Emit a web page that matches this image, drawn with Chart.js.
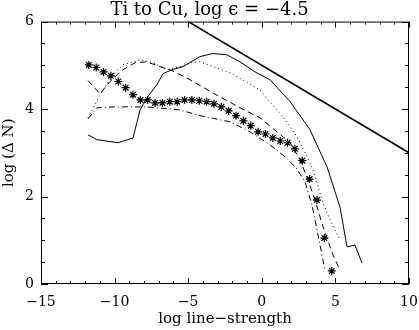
<!DOCTYPE html>
<html>
<head>
<meta charset="utf-8">
<script src="https://cdn.jsdelivr.net/npm/chart.js@4.4.1/dist/chart.umd.min.js"></script>
<style>
  html, body { margin: 0; padding: 0; background: #fff; }
</style>
</head>
<body>
<canvas id="myChart" width="419" height="330"></canvas>
<script>
// values
const limitX = [-5, 10];
const limitY = [6, 3];

const solidX = [-11.8, -11.2, -9.77, -8.75, -8.27, -7.8, -7.12, -6.71, -6.1, -5.35, -4.2, -3.32, -2.36, -1.48, -0.46, 0.56, 1.92, 3.27, 4.43, 5.31, 5.79, 6.33, 6.81];
const solidY = [3.41, 3.30, 3.23, 3.34, 3.98, 4.26, 4.56, 4.81, 4.90, 4.97, 5.20, 5.27, 5.24, 5.08, 4.85, 4.67, 4.17, 3.53, 2.68, 1.76, 0.85, 0.89, 0.48];

const dottedX = [-11.8, -10.99, -10.1, -9.43, -8.27, -7.39, -6.44, -5.56, -4.88, -4.2, -2.16, -0.12, 0.42, 1.44, 2.39, 3.07, 3.48, 4.09, 4.63, 5.31];
const dottedY = [3.80, 4.33, 4.79, 5.01, 5.13, 5.06, 4.90, 4.97, 5.06, 5.08, 4.83, 4.44, 4.21, 3.82, 3.37, 2.91, 2.61, 1.92, 1.47, 1.01];

const dashedX = [-11.8, -10.99, -10.31, -9.43, -8.61, -7.8, -6.92, -6.1, -4.88, -3.32, -1.48, -0.12, 1.03, 1.92, 2.6, 3.14, 3.61, 4.16, 4.84, 5.24];
const dashedY = [4.65, 4.35, 4.63, 4.90, 5.06, 5.08, 4.97, 4.88, 4.67, 4.37, 4.03, 3.80, 3.48, 3.23, 2.84, 2.38, 1.92, 1.31, 0.66, 0.37];

const dashDotX = [-11.8, -11.2, -10.1, -7.8, -5.56, -4.2, -2.16, -0.8, 0.56, 1.58, 2.32, 2.93, 3.41, 3.82, 4.29];
const dashDotY = [3.78, 4.03, 4.05, 4.05, 3.98, 3.85, 3.71, 3.48, 3.18, 2.91, 2.66, 2.34, 1.81, 1.12, 0.32];

const starX = [-11.75, -11.25, -10.75, -10.25, -9.75, -9.25, -8.75, -8.25, -7.75, -7.25, -6.75, -6.25, -5.75, -5.25, -4.75, -4.25, -3.75, -3.25, -2.75, -2.25, -1.75, -1.25, -0.75, -0.25, 0.25, 0.75, 1.25, 1.75, 2.25, 2.75, 3.25, 3.75, 4.25, 4.75];
const starY = [5.01, 4.95, 4.85, 4.76, 4.63, 4.49, 4.33, 4.21, 4.21, 4.14, 4.14, 4.17, 4.17, 4.21, 4.21, 4.19, 4.17, 4.12, 4.05, 3.96, 3.85, 3.73, 3.62, 3.48, 3.43, 3.34, 3.27, 3.23, 3.09, 2.82, 2.40, 1.92, 1.05, 0.30];

const xTicks = [-15, -10, -5, 0, 5, 10];
const yTicks = [0, 2, 4, 6];

const toPoints = (xs, ys) => xs.map((v, i) => ({ x: v, y: ys[i] }));
const minus = v => (v < 0 ? '\u2212' + Math.abs(v) : String(v));
const serif = '"DejaVu Serif", serif';

// box round the plot with inward ticks on every side
const frameTicks = {
    id: 'frameTicks',
    afterDatasetsDraw(chart) {
        const { ctx, chartArea: a, scales: { x, y } } = chart;
        ctx.save();
        ctx.strokeStyle = '#000';
        ctx.lineWidth = 1;
        ctx.strokeRect(a.left + 0.5, a.top + 0.5, a.right - a.left - 1, a.bottom - a.top - 1);
        ctx.beginPath();
        for (let v = x.min; v <= x.max; v += 1) {
            const px = Math.round(x.getPixelForValue(v)) + 0.5;
            const len = xTicks.includes(v) ? 6 : 3;
            ctx.moveTo(px, a.bottom); ctx.lineTo(px, a.bottom - len);
            ctx.moveTo(px, a.top); ctx.lineTo(px, a.top + len);
        }
        for (let v = y.min; v <= y.max; v += 0.5) {
            const py = Math.round(y.getPixelForValue(v)) + 0.5;
            const len = yTicks.includes(v) ? 7 : 4;
            ctx.moveTo(a.left, py); ctx.lineTo(a.left + len, py);
            ctx.moveTo(a.right, py); ctx.lineTo(a.right - len, py);
        }
        ctx.stroke();
        ctx.restore();
    }
};

const lineSet = (data, dash, width) => ({
    data: data,
    showLine: true,
    borderColor: '#000',
    borderWidth: width,
    borderDash: dash,
    pointRadius: 0,
    fill: false,
    tension: 0
});

new Chart(document.getElementById('myChart').getContext('2d'), {
    type: 'scatter',
    data: {
        datasets: [
            lineSet(toPoints(limitX, limitY), [], 1.6),
            lineSet(toPoints(solidX, solidY), [], 1),
            lineSet(toPoints(dottedX, dottedY), [1, 3], 1),
            lineSet(toPoints(dashedX, dashedY), [6, 4], 1),
            lineSet(toPoints(dashDotX, dashDotY), [6, 3, 1, 3], 1),
            {
                data: toPoints(starX, starY),
                showLine: false,
                pointStyle: 'star',
                pointRadius: 4,
                borderColor: '#000',
                backgroundColor: '#000',
                borderWidth: 1.2
            }
        ]
    },
    options: {
        responsive: false,
        animation: false,
        layout: { padding: 0 },
        plugins: {
            legend: { display: false },
            tooltip: { enabled: false },
            title: {
                display: true,
                text: 'Ti to Cu, log \u03F5 = \u22124.5',
                color: '#000',
                font: { family: serif, size: 18, weight: 'normal', lineHeight: 1.2 },
                padding: { top: 0, bottom: 0 }
            }
        },
        scales: {
            x: {
                type: 'linear',
                min: -15,
                max: 10,
                afterBuildTicks: s => { s.ticks = xTicks.map(v => ({ value: v })); },
                afterFit: s => { s.height = 46; s.paddingLeft = 0; s.paddingRight = 10; },
                grid: { display: false, drawTicks: false },
                border: { display: false },
                ticks: { color: '#000', padding: 10, maxRotation: 0, font: { family: serif, size: 14 }, callback: minus },
                title: { display: true, text: 'log line\u2212strength', color: '#000', padding: { top: 0, bottom: 2 }, font: { family: serif, size: 15 } }
            },
            y: {
                type: 'linear',
                min: 0,
                max: 6,
                afterBuildTicks: s => { s.ticks = yTicks.map(v => ({ value: v })); },
                afterFit: s => { s.width = 41; s.paddingTop = 0; s.paddingBottom = 0; },
                grid: { display: false, drawTicks: false },
                border: { display: false },
                ticks: { color: '#000', padding: 7, font: { family: serif, size: 14 }, callback: minus },
                title: { display: true, text: 'log (\u0394 N)', color: '#000', padding: 0, font: { family: serif, size: 15 } }
            }
        }
    },
    plugins: [frameTicks]
});
</script>
</body>
</html>
